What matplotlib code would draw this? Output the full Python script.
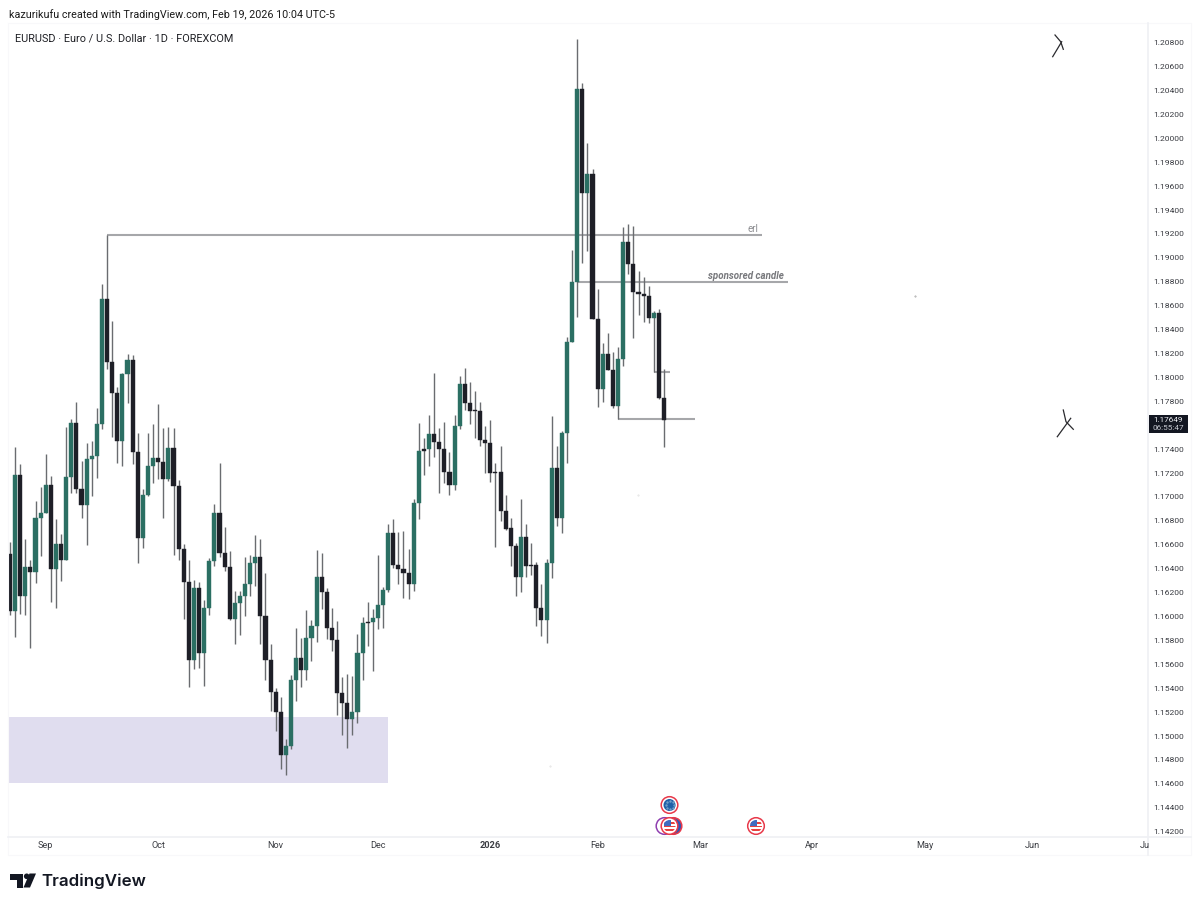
import matplotlib
matplotlib.use('Agg')
import matplotlib.pyplot as plt
from matplotlib.patches import Circle, Rectangle, Polygon

plt.rcParams['font.family'] = ['Roboto', 'DejaVu Sans']

# daily candles, EURUSD
opens = [
    1.16525, 1.16051, 1.17186, 1.16179, 1.16422, 1.16380, 1.16826, 1.16871, 1.17102, 1.16402,
    1.16611, 1.16477, 1.17172, 1.17626, 1.17074, 1.16940, 1.17322, 1.17345, 1.17615, 1.18660,
    1.18131, 1.17877, 1.17470, 1.18030, 1.18147, 1.17378, 1.16659, 1.17021, 1.17264, 1.17333,
    1.17300, 1.17152, 1.17417, 1.17099, 1.16569, 1.16293, 1.15641, 1.16240, 1.15699, 1.16073,
    1.16471, 1.16873, 1.16533, 1.16416, 1.15983, 1.16114, 1.16173, 1.16276, 1.16449, 1.16502,
    1.16008, 1.15638, 1.15370, 1.15203, 1.14846, 1.14918, 1.15470, 1.15660, 1.15557, 1.15822,
    1.15922, 1.16335, 1.16212, 1.15908, 1.15805, 1.15367, 1.15284, 1.15150, 1.15203, 1.15699,
    1.15956, 1.15956, 1.15992, 1.16098, 1.16229, 1.16700, 1.16438, 1.16405, 1.16366, 1.16276,
    1.16951, 1.17403, 1.17403, 1.17531, 1.17467, 1.17403, 1.17216, 1.17104, 1.17598, 1.17949,
    1.17790, 1.17729, 1.17723, 1.17478, 1.17459, 1.17210, 1.17210, 1.16884, 1.16742, 1.16592,
    1.16335, 1.16667, 1.16435, 1.16438, 1.16079, 1.15978, 1.16455, 1.17247, 1.16831, 1.17542,
    1.18300, 1.18802, 1.20419, 1.19544, 1.19706, 1.18496, 1.17907, 1.18200, 1.18069, 1.17768,
    1.18155, 1.19137, 1.18950, 1.18716, 1.18699, 1.18688, 1.18501, 1.18540, 1.17829,
]
highs = [
    1.16625, 1.17425, 1.17280, 1.16650, 1.16477, 1.16968, 1.17085, 1.17361, 1.17183, 1.16818,
    1.16692, 1.17593, 1.17654, 1.17796, 1.17305, 1.17459, 1.17473, 1.17746, 1.18786, 1.19195,
    1.18479, 1.17927, 1.18044, 1.18200, 1.18195, 1.17537, 1.17071, 1.17542, 1.17615, 1.17782,
    1.17581, 1.17593, 1.17579, 1.17147, 1.16608, 1.16477, 1.16310, 1.16296, 1.16142, 1.16490,
    1.16942, 1.17288, 1.16750, 1.16549, 1.16220, 1.16218, 1.16499, 1.16516, 1.16683, 1.16655,
    1.16371, 1.15774, 1.15406, 1.15334, 1.14977, 1.15518, 1.15908, 1.15824, 1.16056, 1.15975,
    1.16558, 1.16533, 1.16240, 1.16073, 1.15969, 1.15496, 1.15521, 1.15507, 1.15858, 1.16003,
    1.16128, 1.16070, 1.16519, 1.16254, 1.16775, 1.16817, 1.16714, 1.16717, 1.16566, 1.16990,
    1.17626, 1.17498, 1.17690, 1.18041, 1.17578, 1.17629, 1.17378, 1.17690, 1.18019, 1.18080,
    1.17969, 1.17888, 1.17796, 1.17598, 1.17645, 1.17286, 1.17428, 1.17024, 1.16828, 1.16617,
    1.16985, 1.16776, 1.16617, 1.16463, 1.16274, 1.16488, 1.17684, 1.17431, 1.17559, 1.18339,
    1.19070, 1.20832, 1.20464, 1.19962, 1.19745, 1.18744, 1.18289, 1.18378, 1.18220, 1.18261,
    1.19265, 1.19287, 1.19271, 1.18897, 1.18847, 1.18772, 1.18560, 1.18574, 1.18072,
]
lows = [
    1.16015, 1.15831, 1.16026, 1.16020, 1.15739, 1.16288, 1.16511, 1.16868, 1.16129, 1.16079,
    1.16299, 1.16477, 1.17041, 1.17035, 1.16826, 1.16603, 1.17013, 1.17160, 1.17576, 1.18078,
    1.17503, 1.17289, 1.17261, 1.17793, 1.17283, 1.16455, 1.16581, 1.17013, 1.17119, 1.17152,
    1.16832, 1.17141, 1.16516, 1.16477, 1.15984, 1.15418, 1.15569, 1.15574, 1.15423, 1.16017,
    1.16427, 1.16505, 1.16388, 1.15975, 1.15772, 1.15850, 1.16008, 1.16176, 1.16259, 1.15774,
    1.15473, 1.15211, 1.15049, 1.14726, 1.14681, 1.14899, 1.15295, 1.15412, 1.15473, 1.15629,
    1.15788, 1.16064, 1.15816, 1.15713, 1.15178, 1.15010, 1.14907, 1.15013, 1.15116, 1.15473,
    1.15760, 1.15551, 1.15897, 1.15908, 1.16206, 1.16407, 1.16276, 1.16162, 1.16151, 1.16221,
    1.16823, 1.17191, 1.17263, 1.17341, 1.17035, 1.17118, 1.17024, 1.17060, 1.17570, 1.17732,
    1.17617, 1.17495, 1.17433, 1.17202, 1.17130, 1.16589, 1.16803, 1.16725, 1.16427, 1.16179,
    1.16212, 1.16338, 1.16352, 1.15928, 1.15842, 1.15780, 1.16324, 1.16764, 1.16700, 1.17286,
    1.18300, 1.18507, 1.18958, 1.19064, 1.18496, 1.17760, 1.17801, 1.18066, 1.17746, 1.17654,
    1.18100, 1.18866, 1.18331, 1.18523, 1.18470, 1.18462, 1.18052, 1.17826, 1.17419,
]
closes = [
    1.16051, 1.17186, 1.16179, 1.16422, 1.16380, 1.16826, 1.16871, 1.17102, 1.16402, 1.16611,
    1.16477, 1.17172, 1.17626, 1.17074, 1.16940, 1.17322, 1.17345, 1.17615, 1.18660, 1.18131,
    1.17877, 1.17470, 1.18030, 1.18150, 1.17378, 1.16659, 1.17021, 1.17264, 1.17333, 1.17300,
    1.17152, 1.17417, 1.17099, 1.16569, 1.16293, 1.15641, 1.16240, 1.15702, 1.16073, 1.16471,
    1.16873, 1.16533, 1.16416, 1.15983, 1.16114, 1.16173, 1.16276, 1.16449, 1.16502, 1.16008,
    1.15638, 1.15370, 1.15203, 1.14846, 1.14918, 1.15470, 1.15660, 1.15557, 1.15822, 1.15922,
    1.16335, 1.16212, 1.15908, 1.15805, 1.15367, 1.15284, 1.15150, 1.15203, 1.15699, 1.15947,
    1.15950, 1.15992, 1.16098, 1.16229, 1.16700, 1.16438, 1.16405, 1.16366, 1.16276, 1.16951,
    1.17392, 1.17392, 1.17531, 1.17467, 1.17403, 1.17216, 1.17104, 1.17598, 1.17949, 1.17790,
    1.17721, 1.17723, 1.17478, 1.17459, 1.17205, 1.17205, 1.16884, 1.16736, 1.16592, 1.16335,
    1.16667, 1.16424, 1.16424, 1.16079, 1.15978, 1.16455, 1.17247, 1.16831, 1.17542, 1.18300,
    1.18802, 1.20419, 1.19544, 1.19706, 1.18496, 1.17907, 1.18200, 1.18069, 1.17768, 1.18155,
    1.19137, 1.18950, 1.18716, 1.18705, 1.18688, 1.18501, 1.18540, 1.17829, 1.17649,
]

month_labels = ['Sep', 'Oct', 'Nov', 'Dec', '2026', 'Feb', 'Mar', 'Apr', 'May', 'Jun', 'Ju']
month_pos = [7, 29, 52, 72, 94, 115, 135, 157, 179, 200, 222]
# 1.17600 sits under the last price tag, so it has no label
price_ticks = [1.142 + 0.002 * i for i in range(34) if i != 17]

# drawings on the chart: price, first bar, last bar
level_prices = [1.19195, 1.18802, 1.17656, 1.18052]
level_start = [19, 111, 119, 126]
level_end = [147.2, 152.2, 134, 129.2]
zone_top = 1.15164
zone_bottom = 1.14611
zone_end = 74

GREEN = '#2b6f63'
DARK = '#1e1f27'
WICK = '#6a6c70'
W, H = 1200, 906

fig = plt.figure(figsize=(W / 100, H / 100), dpi=100, facecolor='white')
ax = fig.add_axes([8 / W, (H - 836) / H, 1140 / W, 813 / H])
ax.set_xlim(-0.39, 222.7)
ax.set_ylim(1.14168, 1.20969)
ax.set_zorder(1)

ax.add_patch(Rectangle((-0.39, zone_bottom), zone_end + 0.39, zone_top - zone_bottom,
                       facecolor='#e0ddef', edgecolor='none', zorder=1))

for p, a, b in zip(level_prices, level_start, level_end):
    ax.plot([a, b], [p, p], color='#a6a7aa', lw=1.5, solid_capstyle='butt', zorder=2)
ax.text(145.4, 1.19195 + 0.00012, 'erl', fontsize=7, color='#8b8c90', ha='center', va='bottom')
ax.text(144, 1.18802 + 0.00012, 'sponsored candle', fontsize=7, color='#77787c',
        style='italic', weight='bold', ha='center', va='bottom')

xs = list(range(len(opens)))
ax.vlines(xs, lows, highs, color=WICK, lw=1.0, zorder=3)
for x, o, c in zip(xs, opens, closes):
    col = GREEN if c >= o else DARK
    ax.bar(x, max(abs(c - o), 0.00005), bottom=min(o, c), width=0.8, color=col,
           edgecolor=col, linewidth=0.3, zorder=4)

for s in ax.spines.values():
    s.set_visible(False)
ax.set_xticks([])
ax.set_yticks([])

# overlay in pixel coordinates for the frame, header, logo and event icons
ov = fig.add_axes([0, 0, 1, 1], facecolor='none')
ov.set_xlim(0, W)
ov.set_ylim(H, 0)
ov.axis('off')
ov.set_zorder(2)

edge = '#eff0f4'
ov.plot([8, 1191, 1191, 8, 8], [23, 23, 855, 855, 23], color='#f8f8fa', lw=0.8)
ov.plot([1148, 1148], [23, 855], color=edge, lw=1.2)
ov.plot([8, 1191], [836.5, 836.5], color=edge, lw=1.2)

ov.text(9, 14.5, 'kazurikufu created with TradingView.com, Feb 19, 2026 10:04 UTC-5',
        fontsize=7.75, color='#1a1a1a', va='center')
ov.text(15, 38, 'EURUSD · Euro / U.S. Dollar · 1D · FOREXCOM', fontsize=7.85, color='#1f2025', va='center')

# price scale, placed through the chart's own y transform
for p in price_ticks:
    ypix = H - ax.transData.transform((0, p))[1]
    ov.text(1168.5, ypix, '%.5f' % p, fontsize=6.1, color='#3a3c42', ha='center', va='center')
for x, lab in zip(month_pos, month_labels):
    xpix = ax.transData.transform((x, 0))[0]
    ov.text(xpix, 846, lab, fontsize=6.6, color='#3a3c42', ha='center', va='center',
            weight='bold' if lab == '2026' else 'normal')

ov.add_patch(Rectangle((1149, 415), 39, 18, facecolor='#131722', edgecolor='none', zorder=5))
ov.text(1168.5, 420, '1.17649', fontsize=5.9, color='#eef0f4', ha='center', va='center', zorder=6)
ov.text(1168.5, 428.3, '06:55:47', fontsize=5.9, color='#c4c7cf', ha='center', va='center', zorder=6)

# hand drawn scribbles
pen = dict(color='#2a2a2e', lw=0.9)
ov.plot([1055, 1060.7, 1063.3], [35, 41.7, 49.3], **pen)
ov.plot([1061.7, 1052.7], [41.7, 56.7], **pen)
ov.plot([1063.3, 1066, 1073.3], [410, 421.7, 429.3], **pen)
ov.plot([1070.7, 1057.3], [418.3, 436.7], **pen)
ov.plot([915], [296], marker='.', ms=0.8, color='#999999')
ov.plot([638], [495], marker='.', ms=0.8, color='#dddddd')
ov.plot([550], [766], marker='.', ms=0.8, color='#dddddd')


def us_flag(cx, cy, r=6):
    disc = Circle((cx, cy), r, facecolor='white', edgecolor='none', zorder=7)
    ov.add_patch(disc)
    for yy in (cy - 0.5, cy + 3.2):
        bar = Rectangle((cx - r, yy), 2 * r, 1.9, facecolor='#e8413f', edgecolor='none', zorder=7.1)
        ov.add_patch(bar)
        bar.set_clip_path(disc)
    bar = Rectangle((cx - r, cy - 3.6), 2 * r, 1.5, facecolor='#e8413f', edgecolor='none', zorder=7.1)
    ov.add_patch(bar)
    bar.set_clip_path(disc)
    canton = Rectangle((cx - r, cy - r), r + 1, r - 0.2, facecolor='#3f6cc0', edgecolor='none', zorder=7.2)
    ov.add_patch(canton)
    canton.set_clip_path(disc)


ov.add_patch(Circle((664.5, 826), 8.3, facecolor='white', edgecolor='#8f3fb0', lw=1.1, zorder=5))
ov.add_patch(Circle((673.5, 826), 8.3, facecolor='#2f55b5', edgecolor='#e8394a', lw=1.1, zorder=5))
for cx in (669.5, 756):
    ov.add_patch(Circle((cx, 826), 8.3, facecolor='white', edgecolor='#e8394a', lw=1.1, zorder=6))
    us_flag(cx, 826)
ov.add_patch(Circle((669.5, 805), 8.3, facecolor='white', edgecolor='#e8394a', lw=1.1, zorder=6))
ov.add_patch(Circle((669.5, 805), 6, facecolor='#1f5fa8', edgecolor='none', zorder=7))
ov.plot([669.5, 669.5, 665.5, 673.5, 666.5, 672.5, 666.5, 672.5], [801, 809, 805, 805, 802, 802, 808, 808],
        ls='none', marker='.', ms=1.5, color='#6f9fc8', zorder=8)

# TradingView logo
ov.add_patch(Polygon([(10, 873.5), (23, 873.5), (23, 887.5), (16.5, 887.5), (16.5, 879.5), (10, 879.5)],
                     facecolor='#131722', edgecolor='none'))
ov.add_patch(Circle((26.7, 876.3), 2.8, facecolor='#131722', edgecolor='none'))
ov.add_patch(Polygon([(29.5, 873.5), (36, 873.5), (30, 887.5), (23.5, 887.5)],
                     facecolor='#131722', edgecolor='none'))
ov.text(41, 881, 'TradingView', fontsize=12.2, color='#131722', family=['Inter', 'DejaVu Sans'],
        weight='semibold', va='center')

fig.savefig('out.png', dpi=100, facecolor='white')
